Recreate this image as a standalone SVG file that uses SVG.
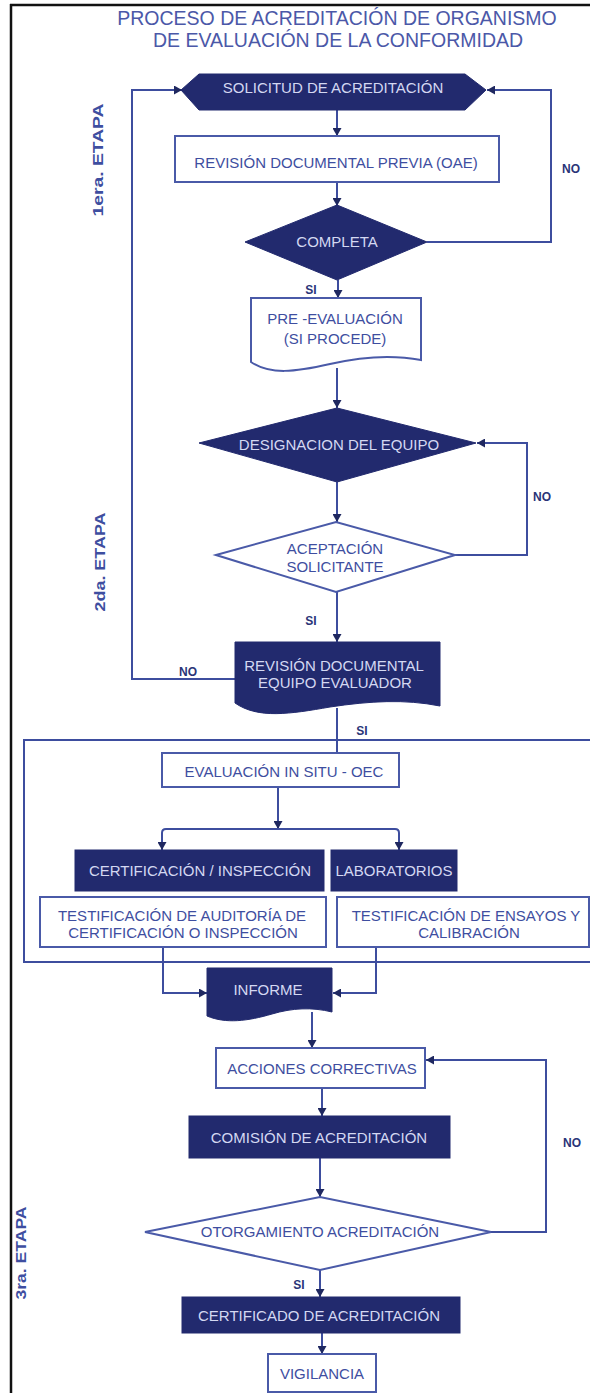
<svg xmlns="http://www.w3.org/2000/svg" width="590" height="1393" viewBox="0 0 590 1393">
<defs>
<style>
.frame{stroke:#111;stroke-width:2.5;fill:none}
.ln{stroke:#3d4d9e;stroke-width:2;fill:none}
.dark{fill:#222a6e;stroke:#222a6e;stroke-width:1}
.out{fill:#fff;stroke:#4a5aa8;stroke-width:2}
text{font-family:"Liberation Sans",Arial,sans-serif}
.t{font-size:15px;text-anchor:middle;fill:#3e4ea0}
.tw{font-size:15px;text-anchor:middle;fill:#d4d8f2}
.lb{font-size:12px;font-weight:bold;text-anchor:middle;fill:#2a3478}
.title{font-size:19.5px;text-anchor:middle;fill:#4b58a8}
.etapa{font-size:14px;font-weight:bold;text-anchor:middle;fill:#3e4ea0}
</style>
<marker id="ah" markerWidth="9" markerHeight="9" refX="8" refY="4.5" orient="auto" markerUnits="userSpaceOnUse">
<path d="M0,0 L8,4.5 L0,9 Z" fill="#1f2860"/>
</marker>
</defs>

<g id="frame">
<line class="frame" x1="10" y1="5" x2="590" y2="5"/>
<line class="frame" x1="11" y1="4" x2="11" y2="1393"/>
<rect class="ln" x="24" y="740" width="580" height="222"/>
</g>

<g id="title">
<text class="title" x="337" y="25">PROCESO DE ACREDITACIÓN DE ORGANISMO</text>
<text class="title" x="338" y="47">DE EVALUACIÓN DE LA CONFORMIDAD</text>
</g>

<g id="etapas">
<text class="etapa" transform="translate(103,160) rotate(-90)" textLength="113" lengthAdjust="spacingAndGlyphs">1era. ETAPA</text>
<text class="etapa" transform="translate(105,562) rotate(-90)" textLength="99" lengthAdjust="spacingAndGlyphs">2da. ETAPA</text>
<text class="etapa" transform="translate(26,1253) rotate(-90)" textLength="93" lengthAdjust="spacingAndGlyphs">3ra. ETAPA</text>
</g>

<g id="connectors">
<line class="ln" x1="337" y1="110" x2="337" y2="136" marker-end="url(#ah)"/>
<line class="ln" x1="337" y1="182" x2="337" y2="206" marker-end="url(#ah)"/>
<polyline class="ln" points="427,242 551,242 551,90 487,90" marker-end="url(#ah)"/>
<line class="ln" x1="338" y1="280" x2="338" y2="298" marker-end="url(#ah)"/>
<line class="ln" x1="337" y1="368" x2="337" y2="408" marker-end="url(#ah)"/>
<line class="ln" x1="337" y1="482" x2="337" y2="522" marker-end="url(#ah)"/>
<polyline class="ln" points="455,555 527,555 527,443 477,443" marker-end="url(#ah)"/>
<line class="ln" x1="337" y1="592" x2="337" y2="642" marker-end="url(#ah)"/>
<polyline class="ln" points="235,679 132,679 132,90 182,90" marker-end="url(#ah)"/>
<line class="ln" x1="337" y1="708" x2="337" y2="753"/>
<line class="ln" x1="278" y1="787" x2="278" y2="829" marker-end="url(#ah)"/>
<path class="ln" d="M278,829 H166 Q162,829 162,833 V850" marker-end="url(#ah)"/>
<path class="ln" d="M278,829 H395 Q399,829 399,833 V850" marker-end="url(#ah)"/>
<polyline class="ln" points="163,947 163,993 207,993" marker-end="url(#ah)"/>
<polyline class="ln" points="376,947 376,993 333,993" marker-end="url(#ah)"/>
<line class="ln" x1="312" y1="1012" x2="312" y2="1048" marker-end="url(#ah)"/>
<line class="ln" x1="322" y1="1088" x2="322" y2="1116" marker-end="url(#ah)"/>
<line class="ln" x1="320" y1="1158" x2="320" y2="1197" marker-end="url(#ah)"/>
<polyline class="ln" points="491,1232 546,1232 546,1060 426,1060" marker-end="url(#ah)"/>
<line class="ln" x1="320" y1="1270" x2="320" y2="1297" marker-end="url(#ah)"/>
<line class="ln" x1="322" y1="1333" x2="322" y2="1354" marker-end="url(#ah)"/>
</g>

<g id="labels">
<text class="lb" x="571" y="173">NO</text>
<text class="lb" x="311" y="294">SI</text>
<text class="lb" x="542" y="501">NO</text>
<text class="lb" x="311" y="625">SI</text>
<text class="lb" x="188" y="676">NO</text>
<text class="lb" x="362" y="735">SI</text>
<text class="lb" x="572" y="1147">NO</text>
<text class="lb" x="299" y="1289">SI</text>
</g>

<g id="solicitud">
<polygon class="dark" points="181,90 199,74 465,74 486,90 465,110 199,110"/>
<text class="tw" x="333" y="93">SOLICITUD DE ACREDITACIÓN</text>
</g>

<g id="revision-previa">
<rect class="out" x="175" y="136" width="324" height="46"/>
<text class="t" x="336" y="168">REVISIÓN DOCUMENTAL PREVIA (OAE)</text>
</g>

<g id="completa">
<polygon class="dark" points="245,242 337,205 427,242 337,280"/>
<text class="tw" x="337" y="247">COMPLETA</text>
</g>

<g id="pre-evaluacion">
<path class="out" d="M251,298 H421 V360 C390,354 360,357 330,364 C295,372 270,375 251,362 Z"/>
<text class="t" x="335" y="324">PRE -EVALUACIÓN</text>
<text class="t" x="335" y="344">(SI PROCEDE)</text>
</g>

<g id="designacion">
<polygon class="dark" points="199,443 337,408 476,443 337,482"/>
<text class="tw" x="339" y="450">DESIGNACION DEL EQUIPO</text>
</g>

<g id="aceptacion">
<polygon class="out" points="216,555 336,522 455,555 336,592"/>
<text class="t" x="335" y="554">ACEPTACIÓN</text>
<text class="t" x="335" y="572">SOLICITANTE</text>
</g>

<g id="revision-equipo">
<path class="dark" d="M235,642 H440 V706 C405,699 370,701 330,707 C290,714 258,719 235,703 Z"/>
<text class="tw" x="334" y="671">REVISIÓN DOCUMENTAL</text>
<text class="tw" x="335" y="688">EQUIPO EVALUADOR</text>
</g>

<g id="evaluacion-in-situ">
<rect class="out" x="162" y="753" width="237" height="34"/>
<text class="t" x="284" y="777">EVALUACIÓN IN SITU - OEC</text>
</g>

<g id="certificacion-inspeccion">
<rect class="dark" x="75" y="850" width="249" height="41"/>
<text class="tw" x="200" y="876">CERTIFICACIÓN / INSPECCIÓN</text>
</g>

<g id="laboratorios">
<rect class="dark" x="331" y="850" width="126" height="41"/>
<text class="tw" x="394" y="876">LABORATORIOS</text>
</g>

<g id="testificacion-auditoria">
<rect class="out" x="40" y="897" width="286" height="50"/>
<text class="t" x="182" y="921">TESTIFICACIÓN DE AUDITORÍA DE</text>
<text class="t" x="183" y="938">CERTIFICACIÓN O INSPECCIÓN</text>
</g>

<g id="testificacion-ensayos">
<rect class="out" x="337" y="897" width="252" height="50"/>
<text class="t" x="466" y="921">TESTIFICACIÓN DE ENSAYOS Y</text>
<text class="t" x="469" y="938">CALIBRACIÓN</text>
</g>

<g id="informe">
<path class="dark" d="M207,968 H332 V1012 C312,1007 292,1008 272,1014 C248,1021 226,1024 207,1016 Z"/>
<text class="tw" x="268" y="995">INFORME</text>
</g>

<g id="acciones-correctivas">
<rect class="out" x="216" y="1048" width="209" height="40"/>
<text class="t" x="322" y="1074">ACCIONES CORRECTIVAS</text>
</g>

<g id="comision">
<rect class="dark" x="189" y="1116" width="261" height="42"/>
<text class="tw" x="319" y="1143">COMISIÓN DE ACREDITACIÓN</text>
</g>

<g id="otorgamiento">
<polygon class="out" points="145,1232 320,1197 491,1232 320,1270"/>
<text class="t" x="320" y="1237">OTORGAMIENTO ACREDITACIÓN</text>
</g>

<g id="certificado">
<rect class="dark" x="182" y="1297" width="278" height="36"/>
<text class="tw" x="319" y="1321">CERTIFICADO DE ACREDITACIÓN</text>
</g>

<g id="vigilancia">
<rect class="out" x="268" y="1354" width="108" height="38"/>
<text class="t" x="322" y="1379">VIGILANCIA</text>
</g>
</svg>
